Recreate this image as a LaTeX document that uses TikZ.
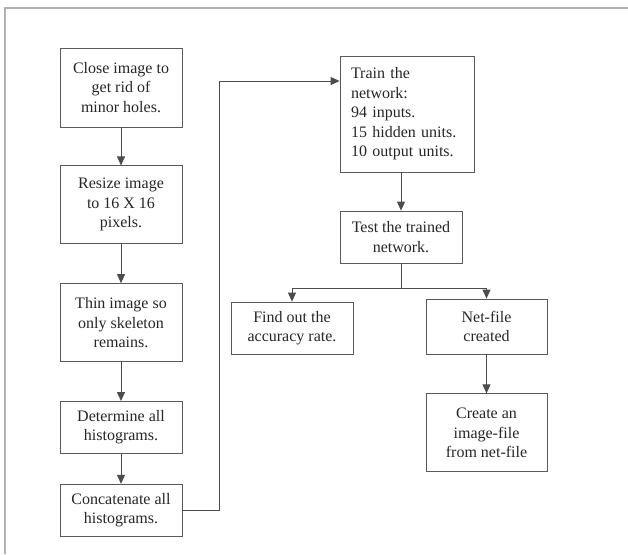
\documentclass[tikz,border=0pt]{standalone}
\usepackage{fontspec}
\setmainfont{Liberation Serif}
\usetikzlibrary{positioning,arrows.meta}

\tikzset{
  stage/.style={draw=black!65, line width=0.8pt, text=black!85, align=center, inner sep=4pt,
    font=\fontsize{16}{19.5}\selectfont},
  flow/.style={draw=black!70, line width=0.8pt, -{Triangle[length=9pt,width=8pt]}},
  link/.style={draw=black!70, line width=0.8pt}
}

\begin{document}
\begin{tikzpicture}[x=1pt,y=-1pt]
\useasboundingbox (0,0) rectangle (628,554);
\draw[gray!60, line width=1.5pt] (628,8) -- (5,8) -- (5,554);

% left column: image preprocessing
\node[stage, minimum width=122pt, minimum height=79pt] (close) at (121,87.5) {Close image to\\get rid of\\minor holes.};
\node[stage, minimum width=122pt, minimum height=78pt] (resize) [below=38pt of close] {Resize image\\to 16 X 16\\pixels.};
\node[stage, minimum width=122pt, minimum height=78pt] (thin) [below=39pt of resize] {Thin image so\\only skeleton\\remains.};
\node[stage, minimum width=122pt, minimum height=52pt] (hist) [below=39pt of thin] {Determine all\\histograms.};
\node[stage, minimum width=122pt, minimum height=52pt] (concat) [below=30pt of hist] {Concatenate all\\histograms.};

% right part: network
\node[stage, align=left, text width=112pt, minimum width=134pt, minimum height=116pt] (train) at (407,114) {Train the\\network:\\94 inputs.\\15 hidden units.\\10 output units.};
\node[stage, minimum width=122pt, minimum height=52pt] (test) at (401,237) {Test the trained\\network.};
\node[stage, minimum width=122pt, minimum height=52pt] (find) at (292,328) {Find out the\\accuracy rate.};
\node[stage, minimum width=121pt, minimum height=55pt] (net) at (486.5,326.5) {Net-file\\created};
\node[stage, minimum width=121pt, minimum height=78pt] (create) [below=39pt of net] {Create an\\image-file\\from net-file};

\coordinate (trainin) at ([yshift=33pt]train.west);
\coordinate (split) at (401,288);

\draw[flow] (close) -- (resize);
\draw[flow] (resize) -- (thin);
\draw[flow] (thin) -- (hist);
\draw[flow] (hist) -- (concat);
\draw[flow] (concat.east) -- ++(37,0) |- (trainin);
\draw[flow] (train.south -| test.north) -- (test.north);
\draw[link] (test.south) -- (split);
\draw[flow] (split) -| (find.north);
\draw[flow] (split) -| (net.north);
\draw[flow] (net) -- (create);

\end{tikzpicture}
\end{document}
